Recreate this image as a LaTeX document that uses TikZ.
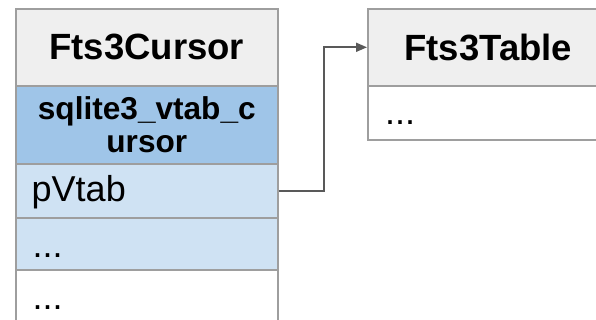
\documentclass[tikz,border=0pt]{standalone}
\usepackage{fontspec}
\setmainfont{Liberation Sans}
\usetikzlibrary{arrows.meta}
\definecolor{hdrgray}{HTML}{EFEFEF}
\definecolor{basecell}{HTML}{9FC5E8}
\definecolor{fieldcell}{HTML}{CFE2F3}
\definecolor{edgegray}{HTML}{9E9E9E}
\definecolor{linkgray}{HTML}{595959}
\tikzset{
  cell/.style={draw=edgegray, line width=1.6pt, rectangle, anchor=north west,
    inner sep=0pt, minimum width=#1},
  cell/.default=262pt,
  hdrtext/.style={font=\fontsize{36.5}{40}\selectfont\bfseries},
  basetext/.style={font=\fontsize{31.6}{33}\selectfont\bfseries, align=center},
  fieldtext/.style={font=\fontsize{36}{40}\selectfont, anchor=base west, inner sep=0pt},
  link/.style={draw=linkgray, line width=1.8pt, -{Triangle[length=11pt,width=9pt]}}
}
\begin{document}
\begin{tikzpicture}[x=1pt,y=-1pt]
\useasboundingbox (0,0) rectangle (596,320);
\clip (0,0) rectangle (596,320);

% Fts3Cursor structure
\node[cell, fill=hdrgray, minimum height=77pt, hdrtext] (chd) at (15,8) {Fts3Cursor};
\node[cell, fill=basecell, minimum height=78pt, basetext] (cbase) at (15,85) {sqlite3\_vtab\_c\\ursor};
\node[cell, fill=fieldcell, minimum height=54pt] (cpv) at (15,163) {};
\node[cell, fill=fieldcell, minimum height=52pt] (cdot) at (15,217) {};
\node[cell, fill=white, minimum height=70pt] (crest) at (15,269) {};
\node[fieldtext] (tpv) at (31.5,201) {pVtab};
\node[fieldtext] (tdot) at (32.5,257) {...};
\node[fieldtext] (trest) at (32.5,309) {...};

% Fts3Table structure
\node[cell=241pt, fill=hdrgray, minimum height=77pt, hdrtext] (thd) at (367,8) {Fts3Table};
\node[cell=241pt, fill=white, minimum height=54pt] (tbody) at (367,85) {};
\node[fieldtext] (tbdot) at (385,125) {...};

% pVtab points to the table
\draw[link] (cpv.east) -- ++(45,0) |- (thd.west);
\end{tikzpicture}
\end{document}
